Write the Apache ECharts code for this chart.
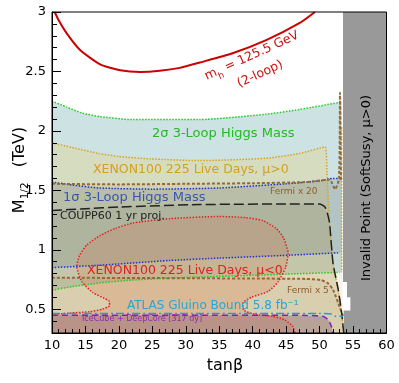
<!DOCTYPE html>
<html>
<head>
<meta charset="utf-8">
<script src="https://cdn.jsdelivr.net/npm/echarts@6/dist/echarts.min.js"></script>
<style>
  html, body { margin: 0; padding: 0; background: #fff; }
  #chart { width: 399px; height: 383px; }
</style>
</head>
<body>
<div id="chart"></div>
<script>
// axis ticks
const xTicks = [10, 15, 20, 25, 30, 35, 40, 45, 50, 55, 60]
const yLabels = [0.5, 1, 1.5, 2, 2.5, 3]
const yMinor = [0.3, 0.4, 0.5, 0.6, 0.7, 0.8, 0.9, 1, 1.1, 1.2, 1.3, 1.4, 1.5, 1.6, 1.7, 1.8, 1.9, 2, 2.1, 2.2, 2.3, 2.4, 2.5, 2.6, 2.7, 2.8, 2.9, 3]

// contours [tanb, M1/2 TeV]
const mhCurve = [[10.4, 3.0], [11, 2.93], [12.2, 2.82], [14.2, 2.68], [17.2, 2.56], [20.2, 2.51], [23.2, 2.495], [26.1, 2.505], [29.1, 2.53], [32.1, 2.575], [37.1, 2.655], [42.1, 2.765], [47.1, 2.91], [49.3, 3.0]]
const sigma2Top = [[10, 2.25], [12.2, 2.2], [14.5, 2.15], [17.2, 2.12], [22, 2.095], [32, 2.095], [42, 2.14], [47, 2.18], [53, 2.24]]
const sigma2Bot = [[10, 0.66], [13, 0.69], [17, 0.72], [22, 0.745], [27, 0.76], [32, 0.77], [40, 0.785], [45, 0.795], [53, 0.81]]
const sigma1Top = [[10, 1.57], [13, 1.545], [17, 1.52], [25, 1.51], [35, 1.52], [45, 1.555], [50, 1.58], [52, 1.6], [53.2, 1.6]]
const sigma1Bot = [[10, 0.85], [17, 0.87], [27.6, 0.91], [35, 0.93], [45.6, 0.955], [53, 0.975]]
const xenonPos = [[10, 1.9], [13, 1.86], [17, 1.81], [20, 1.785], [24.6, 1.765], [32, 1.75], [42, 1.77], [47, 1.81], [50.8, 1.865], [51.1, 1.65], [51.4, 1.3], [52, 0.9], [52.8, 0.65], [53.3, 0.45], [53.6, 0.3]]
const xenonEdge = [[53.3, 2.03], [53.3, 0.81]]
const fermi20 = [[10, 1.555], [20, 1.55], [30, 1.555], [40, 1.56], [48, 1.57], [51.5, 1.59], [52.3, 1.51], [52.9, 1.6], [53.05, 2.32], [53.2, 1.6], [53.35, 1.58]]
const fermi5 = [[10, 0.765], [25, 0.762], [40, 0.758], [48, 0.755], [50.2, 0.745], [51.2, 0.72], [52, 0.665], [52.8, 0.55], [53.5, 0.44]]
const coupp = [[10, 1.33], [15, 1.345], [20, 1.36], [32, 1.38], [45, 1.385], [50, 1.385], [50.8, 1.36], [51.2, 1.3], [51.5, 1.22], [52, 0.89], [52.8, 0.66], [53.3, 0.47], [53.6, 0.3]]
const xenonNeg = [[10, 0.455], [12.7, 0.468], [15.7, 0.48], [17.5, 0.5], [18.6, 0.53], [18.5, 0.57], [16.1, 0.64], [14.5, 0.73], [13.7, 0.86], [14.1, 0.95], [15.2, 1.04], [17.2, 1.12], [19.5, 1.18], [22.1, 1.225], [27.6, 1.262], [35.1, 1.28], [39, 1.27], [41.5, 1.245], [43.5, 1.18], [44.6, 1.1], [45.3, 0.97], [44.9, 0.85], [43.8, 0.73], [42.3, 0.65], [39.8, 0.6], [38.5, 0.55], [38.7, 0.49], [40.5, 0.455], [43, 0.44], [44.8, 0.41], [46, 0.355], [46.3, 0.3]]
const atlas = [[10, 0.465], [30, 0.465], [50, 0.465], [51.8, 0.46], [52.4, 0.44], [53.5, 0.44]]
const iceCube = [[10, 0.45], [30, 0.45], [48, 0.448], [50.5, 0.44], [51.3, 0.41], [51.8, 0.35], [52, 0.3]]
const invalid = [[53.5, 3], [60, 3], [60, 0.3], [53.6, 0.3], [53.6, 0.49], [54.6, 0.49], [54.6, 0.6], [54.1, 0.6], [54.1, 0.73], [53.5, 0.73]]
const edgeX = 53.3
const yMin = 0.3

const font = 'DejaVu Sans'
let chart = echarts.init(document.getElementById('chart'))

// filled polygon through the axes
function area(points, color) {
  return {
    type: 'custom',
    coordinateSystem: 'cartesian2d',
    silent: true,
    clip: true,
    data: points,
    renderItem: function(params, api) {
      if (params.dataIndex !== 0) return
      return {
        type: 'polygon',
        shape: { points: points.map(p => api.coord(p)) },
        style: { fill: color }
      }
    }
  }
}

function line(points, color, type, width) {
  return {
    type: 'line',
    data: points,
    showSymbol: false,
    silent: true,
    smooth: 0.2,
    lineStyle: { color: color, type: type, width: width || 1.5 }
  }
}

const first = a => a[0]
const last = a => a[a.length - 1]

let band2 = sigma2Top.concat([[edgeX, last(sigma2Top)[1]], [edgeX, last(sigma2Bot)[1]]], sigma2Bot.slice().reverse())
let band1 = sigma1Top.concat([[edgeX, last(sigma1Top)[1]], [edgeX, last(sigma1Bot)[1]]], sigma1Bot.slice().reverse())
let below = (pts, x2) => pts.concat(x2 ? [[x2, yMin]] : [], [[first(pts)[0], yMin]])

function label(text, x, y, color, size, rot) {
  return {
    type: 'text', x: x, y: y, rotation: rot || 0, z: 20,
    style: { text: text, fill: color, font: size + 'px "' + font + '"', textAlign: 'left', textVerticalAlign: 'middle' }
  }
}

let option = {
  animation: false,
  grid: { left: 52, right: 12.5, top: 12, bottom: 50 },
  xAxis: {
    type: 'value', min: 10, max: 60, interval: 5, z: 10,
    axisLine: { onZero: false, lineStyle: { color: '#000', width: 1 } },
    axisTick: { inside: true, length: 7, lineStyle: { color: '#000' } },
    minorTick: { show: true, splitNumber: 5, length: 4, lineStyle: { color: '#000' } },
    splitLine: { show: false },
    axisLabel: { color: '#000', fontSize: 13, fontFamily: font, margin: 6,
      customValues: xTicks }
  },
  yAxis: [{
    type: 'value', min: yMin, max: 3, z: 10,
    axisLine: { show: true, onZero: false, lineStyle: { color: '#000' } },
    axisTick: { inside: true, length: 9, customValues: yLabels, lineStyle: { color: '#000' } },
    splitLine: { show: false },
    axisLabel: { color: '#000', fontSize: 13, fontFamily: font, margin: 6, customValues: yLabels }
  }, {
    type: 'value', min: yMin, max: 3, position: 'left', z: 10,
    axisLine: { show: false },
    axisTick: { inside: true, length: 5, customValues: yMinor, lineStyle: { color: '#000' } },
    axisLabel: { show: false }, splitLine: { show: false }
  }],
  series: [
    area(band2, 'rgba(90,160,160,0.3)'),
    area(below(xenonPos), 'rgba(235,205,110,0.3)'),
    area(band1, 'rgba(60,90,120,0.16)'),
    area(below(fermi20, 53.4), 'rgba(130,110,60,0.09)'),
    area(below(coupp), 'rgba(80,80,60,0.09)'),
    area(below(fermi5, 53.7), 'rgba(130,100,50,0.08)'),
    area(below(xenonNeg), 'rgba(220,100,60,0.2)'),
    area(below(iceCube), 'rgba(110,60,100,0.3)'),
    area(invalid, '#999999'),
    line(sigma2Top, '#22cc22', 'dotted'),
    line(sigma2Bot, '#22cc22', 'dotted'),
    line(xenonPos, '#d8a420', 'dotted'),
    line(xenonEdge, '#d8a420', 'dotted'),
    line(sigma1Top, '#2233cc', 'dotted'),
    line(sigma1Bot, '#2233cc', 'dotted'),
    line(fermi20, '#95683a', [3, 2], 2),
    line(fermi5, '#95683a', [3, 2], 2),
    line(coupp, '#222222', [10, 4], 1.5),
    line(xenonNeg, '#e02020', 'dotted'),
    line(atlas, '#1aa0d8', [8, 3, 2, 3], 1.5),
    line(iceCube, '#8020c0', [6, 4], 1.5),
    line(mhCurve, '#cc0000', 'solid', 2)
  ],
  graphic: [
    label('2σ 3-Loop Higgs Mass', 152, 134, '#22bb22', 13),
    label('XENON100 225 Live Days, μ>0', 93, 170, '#d4a020', 12.5),
    label('1σ 3-Loop Higgs Mass', 63, 198, '#3a55b0', 13),
    label('Fermi x 20', 270, 192, '#8b6030', 9),
    label('COUPP60 1 yr proj.', 60, 216, '#222222', 11),
    label('XENON100 225 Live Days, μ<0', 87, 271, '#dd2222', 12.5),
    label('Fermi x 5', 287, 291, '#8b6030', 9),
    label('ATLAS Gluino Bound 5.8 fb⁻¹', 127, 306, '#2aa6d0', 12),
    label('IceCube + DeepCore [317 dy]', 82, 319, '#8a2fb0', 8),
    {
      type: 'text', x: 256, y: 65, rotation: 0.43, z: 20,
      style: { text: '{m|m}{s|h}{m| = 125.5 GeV}\n{m|(2-loop)}', textAlign: 'center', textVerticalAlign: 'middle',
        rich: {
          m: { fontSize: 12.5, fontFamily: font, fill: '#cc1111', lineHeight: 20 },
          s: { fontSize: 9, fontFamily: font, fill: '#cc1111', lineHeight: 20, verticalAlign: 'bottom' }
        } }
    },
    {
      type: 'text', x: 367, y: 188, rotation: Math.PI / 2, z: 20,
      style: { text: 'Invalid Point (SoftSusy, μ>0)', fill: '#000', font: '13px "' + font + '"', textAlign: 'center', textVerticalAlign: 'middle' }
    },
    {
      type: 'text', x: 20, y: 170, rotation: Math.PI / 2, z: 20,
      style: { text: '{m|M}{s|1/2}{m|   (TeV)}', textAlign: 'center', textVerticalAlign: 'middle',
        rich: {
          m: { fontSize: 16, fontFamily: font, fill: '#000', lineHeight: 22 },
          s: { fontSize: 10.5, fontFamily: font, fill: '#000', lineHeight: 22, verticalAlign: 'bottom' }
        } }
    },
    {
      type: 'text', x: 225, y: 366, z: 20,
      style: { text: 'tanβ', fill: '#000', font: '16px "' + font + '"', textAlign: 'center', textVerticalAlign: 'middle' }
    }
  ]
}
chart.setOption(option)

// black frame around the plot, placed with the axis scales
let tl = chart.convertToPixel({ gridIndex: 0 }, [10, 3])
let br = chart.convertToPixel({ gridIndex: 0 }, [60, yMin])
chart.setOption({
  graphic: option.graphic.concat([{
    type: 'rect', z: 30, silent: true,
    shape: { x: tl[0], y: tl[1], width: br[0] - tl[0], height: br[1] - tl[1] },
    style: { fill: 'none', stroke: '#000', lineWidth: 1 }
  }])
})
</script>
</body>
</html>
